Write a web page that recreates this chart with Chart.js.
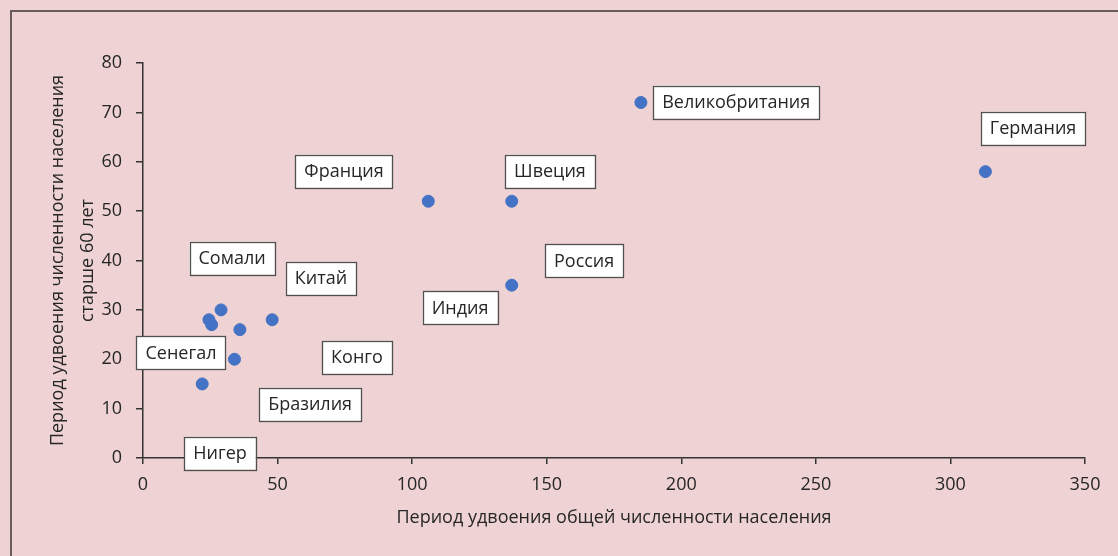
<!DOCTYPE html>
<html>
<head>
<meta charset="utf-8">
<script src="https://cdn.jsdelivr.net/npm/chart.js@4.4.1/dist/chart.umd.min.js"></script>
<style>
  html, body { margin: 0; padding: 0; background: #efd3d4; }
  #wrap { width: 1118px; height: 556px; }
</style>
</head>
<body>
<div id="wrap"><canvas id="chart" width="1118" height="556"></canvas></div>
<script>
// данные: период удвоения общей численности и численности 60+
const countries = ['Великобритания', 'Германия', 'Франция', 'Швеция', 'Россия', 'Индия',
  'Китай', 'Сомали', 'Сенегал', 'Конго', 'Бразилия', 'Нигер'];
const totalDoubling = [185, 313, 106, 137, 137, 48, 36, 29, 24.5, 25.5, 34, 22];
const elderlyDoubling = [72, 58, 52, 52, 35, 28, 26, 30, 28, 27, 20, 15];

// где стоят подписи (в единицах осей)
const labelX = [220.4, 330.7, 74.7, 151.2, 163.9, 117.8, 66.1, 33.1, 14.1, 79.5, 62.1, 28.6];
const labelY = [72.1, 66.8, 58.1, 58.1, 39.9, 30.4, 36.4, 40.5, 21.3, 20.4, 10.9, 1.0];

const xTitle = 'Период удвоения общей численности населения';
const yTitle = ['Период удвоения численности населения', 'старше 60 лет'];

const FONT = '"Open Sans", "DejaVu Sans", sans-serif';
const TEXT = '#262626';
const AXIS = '#333333';

// фон и рамка
const framePlugin = {
  id: 'frame',
  beforeDraw(chart) {
    const ctx = chart.ctx;
    ctx.save();
    ctx.fillStyle = '#efd3d4';
    ctx.fillRect(0, 0, chart.width, chart.height);
    ctx.strokeStyle = '#6b5c5c';
    ctx.lineWidth = 2;
    ctx.strokeRect(11, 11, chart.width + 50, chart.height + 50);
    ctx.restore();
  }
};

// подписи стран в белых рамках
const boxLabels = {
  id: 'boxLabels',
  afterDraw(chart) {
    const ctx = chart.ctx;
    const xs = chart.scales.x, ys = chart.scales.y;
    ctx.save();
    ctx.font = '18px ' + FONT;
    ctx.textAlign = 'center';
    ctx.textBaseline = 'middle';
    countries.forEach((name, i) => {
      const cx = xs.getPixelForValue(labelX[i]);
      const cy = ys.getPixelForValue(labelY[i]);
      const w = ctx.measureText(name).width + 18;
      const h = 33;
      ctx.fillStyle = '#ffffff';
      ctx.fillRect(cx - w / 2, cy - h / 2, w, h);
      ctx.strokeStyle = '#505050';
      ctx.lineWidth = 1.3;
      ctx.strokeRect(Math.round(cx - w / 2) + 0.5, Math.round(cy - h / 2) + 0.5, Math.round(w), h);
      ctx.fillStyle = TEXT;
      ctx.fillText(name, cx, cy + 1);
    });
    ctx.restore();
  }
};

const points = totalDoubling.map((x, i) => ({ x: x, y: elderlyDoubling[i] }));

new Chart(document.getElementById('chart'), {
  type: 'scatter',
  data: {
    datasets: [{
      data: points,
      backgroundColor: '#4472c4',
      borderColor: '#4472c4',
      pointRadius: 6,
      pointHoverRadius: 6
    }]
  },
  options: {
    responsive: false,
    animation: false,
    layout: { padding: { top: 63, right: 33, left: 0, bottom: 0 } },
    plugins: {
      legend: { display: false },
      tooltip: { enabled: false }
    },
    scales: {
      x: {
        type: 'linear',
        min: 0, max: 350,
        afterFit: s => { s.height = 98; },
        grid: { drawOnChartArea: false, drawTicks: true, tickLength: 6, color: AXIS, lineWidth: 1.5 },
        border: { color: AXIS, width: 1.5 },
        ticks: { stepSize: 50, color: TEXT, padding: 10, font: { family: FONT, size: 18 } },
        title: { display: true, text: xTitle, color: TEXT, padding: { bottom: 27, top: 0 },
          font: { family: FONT, size: 18 } }
      },
      y: {
        type: 'linear',
        min: 0, max: 80,
        afterFit: s => { s.width = 143; },
        grid: { drawOnChartArea: false, drawTicks: true, tickLength: 7, color: AXIS, lineWidth: 1.5 },
        border: { color: AXIS, width: 1.5 },
        ticks: { stepSize: 10, color: TEXT, padding: 14, font: { family: FONT, size: 18 } },
        title: { display: true, text: yTitle, color: TEXT, padding: { top: 43, bottom: 0 },
          font: { family: FONT, size: 18, lineHeight: 1.65 } }
      }
    }
  },
  plugins: [framePlugin, boxLabels]
});
</script>
</body>
</html>
